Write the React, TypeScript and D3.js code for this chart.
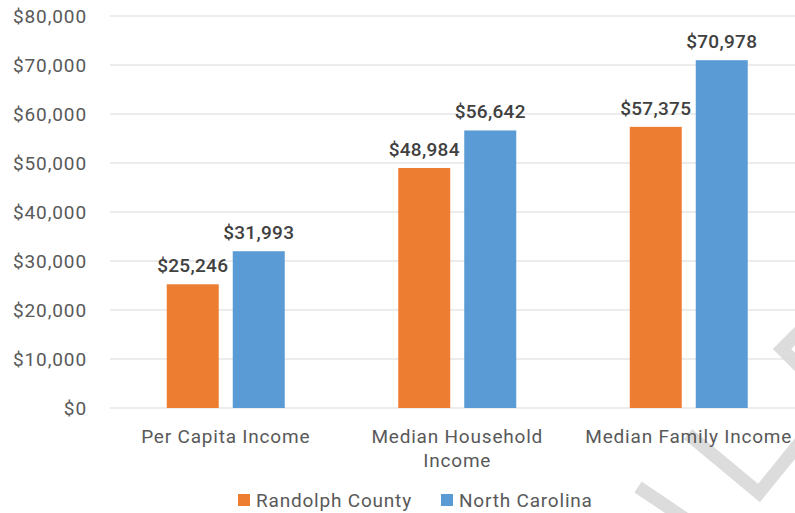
import React from "react";
import * as d3 from "d3";

const categories = ["Per Capita Income", "Median Household Income", "Median Family Income"];
const categoryLines = [["Per Capita Income"], ["Median Household", "Income"], ["Median Family Income"]];
const seriesNames = ["Randolph County", "North Carolina"];
const randolph = [25246, 48984, 57375];
const northCarolina = [31993, 56642, 70978];
const yTicks = [0, 10000, 20000, 30000, 40000, 50000, 60000, 70000, 80000];
const colors = ["#ED7D31", "#5B9BD5"];

const W = 795;
const H = 513;
const FONT = "Roboto, 'Noto Sans', sans-serif";
const LS = 0.8;

export default function App() {
  const x0 = d3.scaleBand<string>().domain(categories).range([110, 804.5]).paddingInner(0).paddingOuter(0);
  const bw = x0.bandwidth();
  const x1 = d3
    .scaleBand<string>()
    .domain(seriesNames)
    .range([bw / 2 - 59, bw / 2 + 59])
    .paddingInner(14 / 66)
    .paddingOuter(0);
  const y = d3.scaleLinear().domain([0, 80000]).range([408, 16]);
  const fmt = (v: number) => "$" + d3.format(",")(v);
  const series = [randolph, northCarolina];

  return (
    <svg
      width={W}
      height={H}
      style={{ position: "absolute", left: 0, top: 0, background: "#fff" }}
      fontFamily={FONT}
    >
      <g fill="none" stroke="#dcdcdc" strokeWidth={13} strokeLinejoin="miter" strokeLinecap="butt">
        <polyline points="814,317 782,349 814,381" />
        <polyline points="688,434 759,493 802,440" />
        <polyline points="638,487 690,522" />
      </g>
      {yTicks.map((t) => (
        <g key={t}>
          <line x1={110} x2={W} y1={y(t)} y2={y(t)} stroke="#d9d9d9" strokeWidth={1} />
          <text x={87} y={y(t)} dy="0.36em" textAnchor="end" fontSize={19} letterSpacing={LS + 0.1} fill="#595959">
            {fmt(t)}
          </text>
        </g>
      ))}
      {categories.map((c, i) => (
        <g key={c} transform={`translate(${x0(c)},0)`}>
          {seriesNames.map((s, j) => {
            const v = series[j][i];
            const bx = x1(s)!;
            return (
              <g key={s}>
                <rect x={bx} y={y(v)} width={x1.bandwidth()} height={y(0) - y(v)} fill={colors[j]} />
                <text
                  x={bx + x1.bandwidth() / 2}
                  y={y(v) - 12}
                  textAnchor="middle"
                  fontSize={19}
                  fontWeight={500}
                  letterSpacing={0.3}
                  fill="#404040"
                >
                  {fmt(v)}
                </text>
              </g>
            );
          })}
          {categoryLines[i].map((ln, k) => (
            <text
              key={k}
              x={bw / 2}
              y={443 + k * 24}
              textAnchor="middle"
              fontSize={19}
              letterSpacing={LS}
              fill="#595959"
            >
              {ln}
            </text>
          ))}
        </g>
      ))}
      <g>
        <rect x={238} y={494} width={12} height={12} fill={colors[0]} />
        <text x={256} y={500} dy="0.36em" fontSize={19} letterSpacing={LS} fill="#595959">
          {seriesNames[0]}
        </text>
        <rect x={441} y={494} width={12} height={12} fill={colors[1]} />
        <text x={459} y={500} dy="0.36em" fontSize={19} letterSpacing={LS} fill="#595959">
          {seriesNames[1]}
        </text>
      </g>
    </svg>
  );
}
